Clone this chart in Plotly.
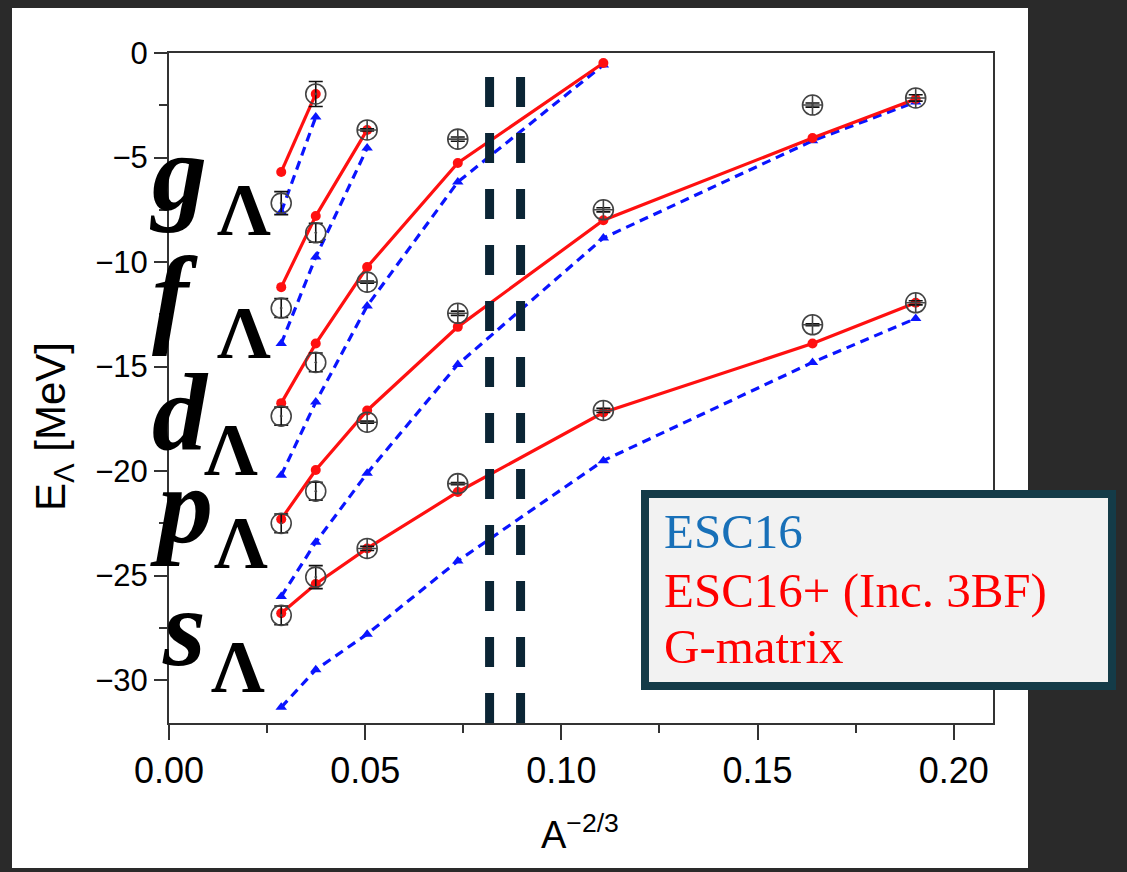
import plotly.graph_objects as go

# ---------------- data ----------------
A_inv23 = [0.0286, 0.0374, 0.0505, 0.0736, 0.1107, 0.1640, 0.1903]
states = ["s", "p", "d", "f", "g"]

# ESC16 (blue, dashed, triangles)
esc16_s = [-31.3, -29.5, -27.8, -24.3, -19.5, -14.8, -12.7]
esc16_p = [-26.0, -23.4, -20.1, -14.9, -8.85, -4.2, -2.34]
esc16_d = [-20.2, -16.7, -12.1, -6.17, -0.57]
esc16_f = [-13.9, -9.76, -4.55]
esc16_g = [-7.6, -3.06]

# ESC16+ incl. 3BF (red, solid, dots)
esc3bf_s = [-26.8, -25.4, -23.7, -21.0, -17.2, -13.9, -11.95]
esc3bf_p = [-22.3, -19.95, -17.1, -13.1, -8.0, -4.07, -2.2]
esc3bf_d = [-16.75, -13.9, -10.24, -5.26, -0.48]
esc3bf_f = [-11.2, -7.8, -3.68]
esc3bf_g = [-5.69, -1.96]

# Experiment (open circles with error bars)
exp_s = [-26.9, -25.07, -23.7, -20.6, -17.1, -13.0, -11.95]
exp_p = [-22.5, -20.96, -17.66, -12.45, -7.5, -2.49, -2.15]
exp_d = [-17.37, -14.8, -10.96, -4.12]
exp_f = [-12.2, -8.6, -3.68]
exp_g = [-7.18, -1.96]

err_s = [0.45, 0.55, 0.1, 0.05, 0.1, 0.05, 0.1]
err_p = [0.45, 0.43, 0.05, 0.1, 0.1, 0.1, 0.15]
err_d = [0.43, 0.45, 0.05, 0.1]
err_f = [0.45, 0.45, 0.05]
err_g = [0.55, 0.6]

# vertical marker lines
vlines_x = [0.0817, 0.0896]

x_ticks = [0.00, 0.05, 0.10, 0.15, 0.20]
x_ticklabels = ["0.00", "0.05", "0.10", "0.15", "0.20"]
y_ticks = [0, -5, -10, -15, -20, -25, -30]
y_ticklabels = ["0", "\u22125", "\u221210", "\u221215", "\u221220", "\u221225", "\u221230"]

legend_texts = ["ESC16", "ESC16+ (Inc. 3BF)", "G-matrix"]

esc16 = dict(s=esc16_s, p=esc16_p, d=esc16_d, f=esc16_f, g=esc16_g)
esc3bf = dict(s=esc3bf_s, p=esc3bf_p, d=esc3bf_d, f=esc3bf_f, g=esc3bf_g)
expv = dict(s=exp_s, p=exp_p, d=exp_d, f=exp_f, g=exp_g)
errv = dict(s=err_s, p=err_p, d=err_d, f=err_f, g=err_g)

# ---------------- layout geometry ----------------
W, H = 1127, 872
L, R, T, B = 169, 993, 53, 723


def px(x):
    return (x - L) / (R - L)


def py(y):
    return (B - y) / (B - T)


fig = go.Figure()

BLUE = "#0a14ff"
RED = "#ff1010"

for st in states:
    yb = esc16[st]
    fig.add_trace(go.Scatter(
        x=A_inv23[:len(yb)], y=yb, mode="lines+markers",
        line=dict(color=BLUE, width=3.2, dash="9px,6px"),
        marker=dict(symbol="triangle-up", size=10, color=BLUE),
        showlegend=False, hoverinfo="skip"))
for st in states:
    yr = esc3bf[st]
    fig.add_trace(go.Scatter(
        x=A_inv23[:len(yr)], y=yr, mode="lines+markers",
        line=dict(color=RED, width=3.2),
        marker=dict(symbol="circle", size=10, color=RED),
        showlegend=False, hoverinfo="skip"))
for st in states:
    ye = expv[st]
    ee = errv[st]
    symbols = ["circle-open-dot" if e >= 0.3 else "circle-cross-open" for e in ee]
    fig.add_trace(go.Scatter(
        x=A_inv23[:len(ye)], y=ye, mode="markers",
        marker=dict(symbol=symbols, size=20, color="#444444",
                    line=dict(color="#444444", width=1.6)),
        error_y=dict(type="data", array=ee, visible=True, color="#111111",
                     thickness=1.6, width=7),
        showlegend=False, hoverinfo="skip"))

for xv in vlines_x:
    fig.add_trace(go.Scatter(
        x=[xv, xv], y=[-1.15, -32.05], mode="lines",
        line=dict(color="#0b2535", width=9, dash="30px,26px"),
        showlegend=False, hoverinfo="skip"))

shapes = [
    # white slide panel
    dict(type="rect", xref="paper", yref="paper", layer="below",
         x0=px(12), x1=px(1028), y0=py(868), y1=py(8),
         fillcolor="white", line=dict(width=0)),
    # legend box
    dict(type="rect", xref="paper", yref="paper", layer="above",
         x0=px(645), x1=px(1112), y0=py(686), y1=py(494),
         fillcolor="#f2f2f2", line=dict(color="#143b48", width=8)),
]

annotations = []
# state labels
main_F, sub_F = 110, 75
label_geom = {
    "g": (147, 210, 215, 235),
    "f": (150, 333, 215, 358),
    "d": (150, 450, 202, 475),
    "p": (148, 543, 212, 568),
    "s": (160, 665, 209, 692),
}
for st in states:
    mx, mb, sx, sb = label_geom[st]
    annotations.append(dict(
        text="<b><i>%s</i></b>" % st, xref="paper", yref="paper",
        x=px(mx), y=py(mb - 0.3375 * main_F), xanchor="left", yanchor="middle",
        showarrow=False,
        font=dict(family="Liberation Serif, DejaVu Serif, serif", size=main_F, color="black")))
    annotations.append(dict(
        text="<b>\u039b</b>", xref="paper", yref="paper",
        x=px(sx), y=py(sb - 0.3375 * sub_F), xanchor="left", yanchor="middle",
        showarrow=False,
        font=dict(family="Liberation Serif, DejaVu Serif, serif", size=sub_F, color="black")))

# legend texts
leg_colors = ["#1870b8", "#ff0000", "#ff0000"]
leg_base = [548, 607, 663]
for t, c, b in zip(legend_texts, leg_colors, leg_base):
    annotations.append(dict(
        text=t, xref="paper", yref="paper", x=px(662), y=py(b - 0.3375 * 49),
        xanchor="left", yanchor="middle", showarrow=False,
        font=dict(family="Liberation Serif, Times New Roman, serif", size=49, color=c)))

# axis titles
annotations.append(dict(
    text="E<sub>\u039b</sub> [MeV]", xref="paper", yref="paper",
    x=px(53), y=py(427), xanchor="center", yanchor="middle", textangle=-90,
    showarrow=False,
    font=dict(family="Liberation Sans, Arial, sans-serif", size=42, color="black")))
annotations.append(dict(
    text="A<sup>\u22122/3</sup>", xref="paper", yref="paper",
    x=px(580), y=py(832), xanchor="center", yanchor="middle",
    showarrow=False,
    font=dict(family="Liberation Sans, Arial, sans-serif", size=38, color="black")))

fig.update_layout(
    width=W, height=H,
    margin=dict(l=L, r=W - R, t=T, b=H - B, pad=0),
    paper_bgcolor="#2a2a2a",
    plot_bgcolor="white",
    shapes=shapes,
    annotations=annotations,
    showlegend=False,
)

fig.update_xaxes(
    range=[0, 0.21], tickvals=x_ticks, ticktext=x_ticklabels,
    showgrid=False, zeroline=False,
    showline=True, linecolor="#333333", linewidth=2, mirror=True,
    ticks="outside", ticklen=15, tickwidth=2, tickcolor="#333333",
    tickfont=dict(family="Liberation Sans, Arial, sans-serif", size=36, color="black"),
    minor=dict(dtick=0.025, tick0=0, ticks="outside", ticklen=8, tickwidth=2,
               tickcolor="#333333", showgrid=False),
)
fig.update_yaxes(
    range=[-32.05, 0], tickvals=y_ticks, ticktext=y_ticklabels,
    showgrid=False, zeroline=False,
    showline=True, linecolor="#333333", linewidth=2, mirror=True,
    ticks="outside", ticklen=13, tickwidth=2, tickcolor="#333333",
    tickfont=dict(family="Liberation Sans, Arial, sans-serif", size=31, color="black"),
    minor=dict(dtick=2.5, tick0=0, ticks="outside", ticklen=8, tickwidth=2,
               tickcolor="#333333", showgrid=False),
)

fig.write_html(
    "out.html",
    config={"displayModeBar": False},
    post_script="document.body.style.margin='0';document.body.style.padding='0';"
                "document.body.style.background='#2a2a2a';",
)
